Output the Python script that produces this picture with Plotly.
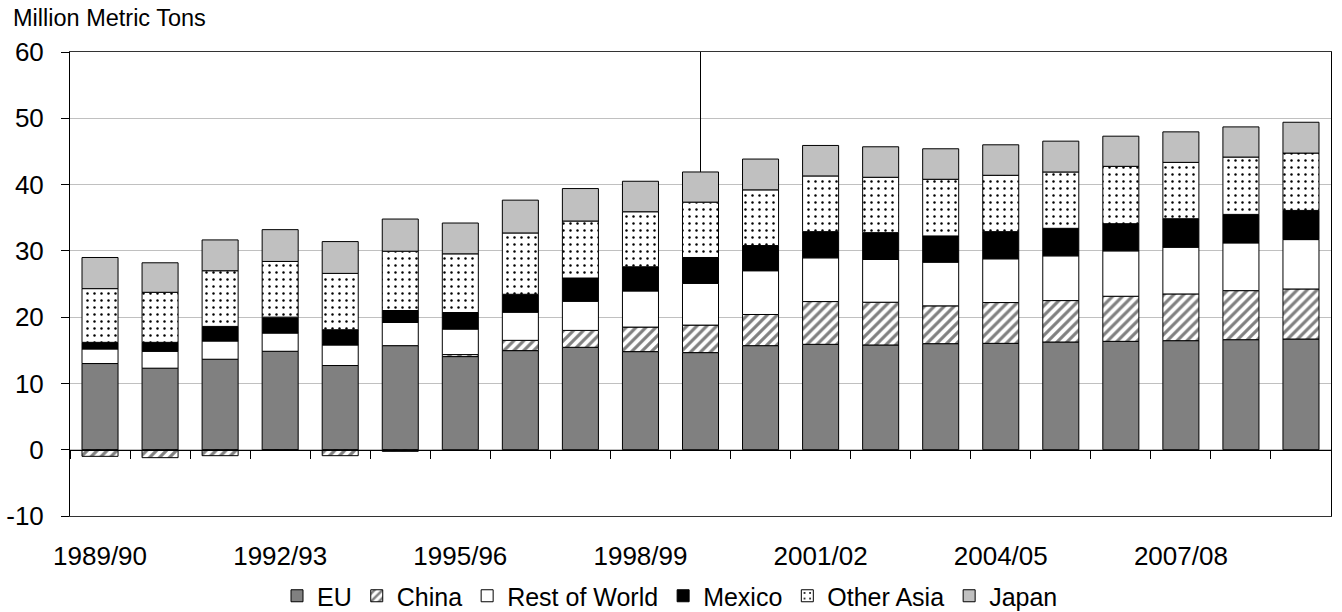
import plotly.graph_objects as go

# Marketing years on the category axis
years = ["1989/90", "1990/91", "1991/92", "1992/93", "1993/94", "1994/95", "1995/96",
         "1996/97", "1997/98", "1998/99", "1999/00", "2000/01", "2001/02", "2002/03",
         "2003/04", "2004/05", "2005/06", "2006/07", "2007/08", "2008/09", "2009/10"]
label_years = ["1989/90", "1992/93", "1995/96", "1998/99", "2001/02", "2004/05", "2007/08"]

# Value axis ticks
y_ticks = [-10, 0, 10, 20, 30, 40, 50, 60]
y_tick_text = ["-10", "0", "10", "20", "30", "40", "50", "60"]

# Million metric tons by region
eu = [13.0, 12.3, 13.65, 14.85, 12.7, 15.7, 14.05, 14.95, 15.45, 14.8, 14.65,
      15.7, 15.9, 15.8, 16.0, 16.05, 16.25, 16.35, 16.45, 16.6, 16.7]
china = [-1.0, -1.2, -0.9, -0.05, -0.9, -0.25, 0.3, 1.55, 2.55, 3.7, 4.15,
         4.7, 6.45, 6.45, 5.7, 6.15, 6.25, 6.8, 7.05, 7.4, 7.55]
rest_of_world = [2.2, 2.55, 2.75, 2.75, 3.1, 3.5, 3.85, 4.25, 4.4, 5.45, 6.3,
                 6.6, 6.6, 6.45, 6.6, 6.6, 6.75, 6.85, 7.05, 7.2, 7.45]
mexico = [1.0, 1.35, 2.2, 2.4, 2.3, 1.8, 2.5, 2.7, 3.5, 3.65, 3.9,
          3.8, 3.95, 4.05, 3.95, 4.1, 4.15, 4.1, 4.3, 4.3, 4.4]
other_asia = [8.1, 7.55, 8.4, 8.4, 8.5, 8.95, 8.85, 9.25, 8.6, 8.3, 8.35,
              8.4, 8.4, 8.35, 8.55, 8.5, 8.5, 8.65, 8.5, 8.65, 8.65]
japan = [4.7, 4.45, 4.65, 4.8, 4.8, 4.85, 4.65, 4.95, 4.9, 4.6, 4.55,
         4.65, 4.6, 4.6, 4.6, 4.6, 4.65, 4.55, 4.6, 4.55, 4.65]

# Year marking the start of the projection period
split_year = "1999/00"

FONT = "Liberation Sans, Arial, sans-serif"
outline = dict(color="black", width=1)

series = [
    ("EU", eu, dict(color="#808080", line=outline)),
    ("China", china, dict(color="white", line=outline,
                          pattern=dict(shape="/", fgcolor="#808080", bgcolor="white",
                                       size=7, solidity=0.45, fillmode="replace"))),
    ("Rest of World", rest_of_world, dict(color="white", line=outline)),
    ("Mexico", mexico, dict(color="black", line=outline)),
    ("Other Asia", other_asia, dict(color="white", line=outline,
                                    pattern=dict(shape=".", fgcolor="black", bgcolor="white",
                                                 size=7, solidity=0.1, fillmode="replace"))),
    ("Japan", japan, dict(color="#c0c0c0", line=outline)),
]

fig = go.Figure()
for name, vals, marker in series:
    fig.add_trace(go.Bar(x=years, y=vals, name=name, marker=marker, width=0.6))

# Vertical marker from the top of the split-year bar to the top of the plot
i = years.index(split_year)
split_total = sum(v[i] for _, v, _ in series if v[i] > 0)
fig.add_trace(go.Scatter(x=[split_year, split_year], y=[split_total, 60], mode="lines",
                         line=dict(color="black", width=1), showlegend=False,
                         hoverinfo="skip"))

# Helper trace that carries the zero-line axis with boundary ticks
fig.add_trace(go.Scatter(x=years, y=[None] * len(years), xaxis="x2", mode="lines",
                         showlegend=False, hoverinfo="skip"))

fig.update_layout(
    width=1342, height=612,
    margin=dict(l=70, r=11, t=52, b=96, autoexpand=False),
    barmode="relative",
    bargap=0.4,
    plot_bgcolor="white",
    paper_bgcolor="white",
    font=dict(family=FONT, size=25, color="black"),
    showlegend=True,
    legend=dict(orientation="h", xref="container", yref="container",
                x=670 / 1342, xanchor="center", y=1 - 596 / 612, yanchor="middle",
                font=dict(size=25), traceorder="normal", itemclick=False,
                bgcolor="rgba(0,0,0,0)"),
    xaxis=dict(type="category", categoryorder="array", categoryarray=years,
               range=[-0.5, len(years) - 0.5], automargin=False,
               tickvals=label_years, ticktext=label_years, ticks="",
               showgrid=False, showline=True, linecolor="#333333", linewidth=1,
               mirror=True, ticklabelstandoff=17, tickfont=dict(size=26)),
    xaxis2=dict(type="category", categoryorder="array", categoryarray=years,
                range=[-0.5, len(years) - 0.5], overlaying="x", anchor="free",
                position=1 / 7, side="bottom", tickson="boundaries", ticks="outside",
                ticklen=8, tickcolor="black", showticklabels=False, showgrid=False,
                showline=True, linecolor="black", linewidth=1, automargin=False),
    yaxis=dict(range=[-10, 60], tickvals=y_ticks, ticktext=y_tick_text,
               showgrid=True, gridcolor="#c0c0c0",
               gridwidth=1, zeroline=False, showline=True, linecolor="black",
               linewidth=1, mirror=True, ticks="outside", ticklen=8, tickcolor="black",
               ticklabelstandoff=12, tickfont=dict(size=26), automargin=False),
    annotations=[dict(text="Million Metric Tons", xref="paper", yref="paper",
                      x=(11 - 70) / 1261, y=1 + (52 - 33) / 464,
                      xanchor="left", yanchor="bottom", showarrow=False,
                      font=dict(size=23.5, family=FONT))],
)

fig.write_html("out.html")
